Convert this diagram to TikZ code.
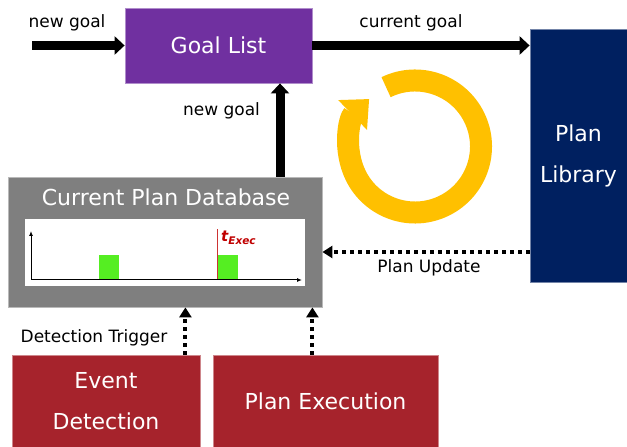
\documentclass[tikz,border=0pt]{standalone}
\usepackage{fontspec}
\setmainfont{DejaVu Sans}
\usetikzlibrary{arrows.meta}
\definecolor{glpurple}{HTML}{7030A0}
\definecolor{plnavy}{HTML}{002060}
\definecolor{boxred}{HTML}{A6232C}
\definecolor{dbgray}{HTML}{7F7F7F}
\definecolor{loopyellow}{HTML}{FFC000}
\definecolor{slotgreen}{HTML}{55EE22}
\definecolor{texecred}{HTML}{C00000}

\begin{document}
\begin{tikzpicture}[x=1pt, y=1pt,
	every node/.style={font=\fontsize{17}{20}\selectfont, inner sep=0pt},
	box/.style={text=white, font=\fontsize{22}{41}\selectfont, align=center},
	bigarrow/.style={line width=9pt, -{Triangle[width=18pt,length=10pt]}},
	dotarrow/.style={line width=4pt, dash pattern=on 4pt off 4pt, -{Triangle[width=12pt,length=10pt]}}]
	\useasboundingbox (0,0) rectangle (627,447);
	\node[box, fill=glpurple, draw=glpurple!55!white, line width=0.8pt, minimum width=187pt, minimum height=75pt] (gl) at (218.5,401.5) {Goal List};
	\node[box, fill=plnavy, draw=plnavy!55!white, line width=0.8pt, minimum width=97pt, minimum height=253pt] (pl) at (578.5,291.5) {Plan\\Library};
	\node[fill=dbgray, draw=dbgray!55!white, line width=0.8pt, minimum width=314pt, minimum height=130pt] (db) at (165,205) {};
	\node[box] (dbtitle) at (166,250) {Current Plan Database};
	\node[fill=white, minimum width=280pt, minimum height=67pt] (chart) at (165,194.5) {};
	\node[box, fill=boxred, draw=boxred!55!white, line width=0.8pt, minimum width=188pt, minimum height=92pt] (evt) at (106,46) {Event\\Detection};
	\node[box, fill=boxred, draw=boxred!55!white, line width=0.8pt, minimum width=225pt, minimum height=92pt] (pe) at (325.5,46) {Plan Execution};
	\foreach \x in {99, 218} {
		\fill[slotgreen] (\x,167) rectangle (\x+20,192);
	}
	\draw[texecred!80!white, line width=0.8pt] (217,167) -- (217,218);
	\node[anchor=west, text=texecred, font=\fontsize{15}{17}\selectfont\bfseries\itshape] (texec) at (221,209) {t\textsubscript{Exec}};
	\draw[line width=1pt, -{Latex[length=5pt,width=4pt]}] (31,167) -- (302,167);
	\draw[line width=1pt, -{Latex[length=5pt,width=4pt]}] (31,167) -- (31,216);
	\draw[loopyellow, line width=22pt, -{Triangle[width=40pt,length=23pt]}] (415,300.5) ++(116:66) arc[start angle=116, end angle=-226, radius=66];
	\coordinate (goalin) at (32,401.5);
	\draw[bigarrow] (goalin) -- (gl.west);
	\draw[bigarrow] (gl.east) -- (gl.east -| pl.west);
	\draw[bigarrow] ([xshift=115pt]db.north) -- ([xshift=115pt]db.north |- gl.south);
	\draw[dotarrow] ([yshift=-10pt]db.east -| pl.west) -- ([yshift=-10pt]db.east);
	\draw[dotarrow] ([xshift=-15pt]evt.north east) -- ([xshift=-15pt]evt.north east |- db.south);
	\draw[dotarrow] ([xshift=-10pt]db.south east |- pe.north) -- ([xshift=-10pt]db.south east);
	\node (lnewgoal) at (67,424) {new goal};
	\node (lcurgoal) at (411,424) {current goal};
	\node (lnewgoalup) at (221.5,336) {new goal};
	\node (lupdate) at (429,179) {Plan Update};
	\node (ltrigger) at (94,109) {Detection Trigger};
\end{tikzpicture}
\end{document}
